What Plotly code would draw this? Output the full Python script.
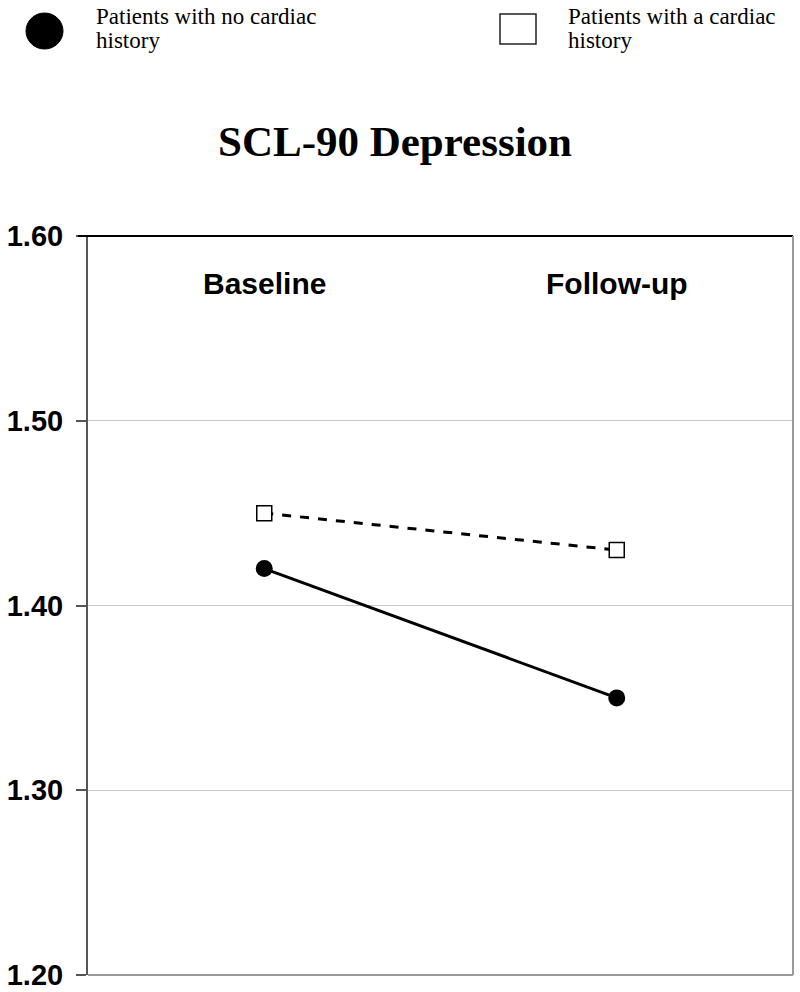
import plotly.graph_objects as go

categories = ["Baseline", "Follow-up"]
no_cardiac = [1.42, 1.35]
cardiac = [1.45, 1.43]
y_ticks = [1.20, 1.30, 1.40, 1.50, 1.60]
y_tick_labels = ["1.20", "1.30", "1.40", "1.50", "1.60"]
legend_lines_1 = ["Patients with no cardiac", "history"]
legend_lines_2 = ["Patients with a cardiac", "history"]
title_text = "SCL-90 Depression"

W, H = 800, 992
L, R, T, B = 88, 793, 236, 975

def px(x):
    return (x - L) / (R - L)

def py(y):
    return (B - y) / (B - T)

fig = go.Figure()
fig.add_trace(go.Scatter(
    x=categories, y=no_cardiac, mode="lines+markers",
    line=dict(color="black", width=3),
    marker=dict(symbol="circle", size=17, color="black"),
    showlegend=False, hoverinfo="skip"))
fig.add_trace(go.Scatter(
    x=categories, y=cardiac, mode="lines+markers",
    line=dict(color="black", width=3, dash="dash"),
    marker=dict(symbol="square", size=15, color="white", line=dict(color="black", width=1.5)),
    showlegend=False, hoverinfo="skip"))

shapes = [
    dict(type="line", xref="paper", yref="paper", x0=px(78), x1=1, y0=1, y1=1,
         line=dict(color="black", width=2)),
    dict(type="line", xref="paper", yref="paper", x0=1, x1=1, y0=0, y1=1,
         line=dict(color="#999999", width=2)),
    dict(type="line", xref="paper", yref="paper", x0=0, x1=1, y0=0, y1=0,
         line=dict(color="#999999", width=2)),
    dict(type="circle", xref="paper", yref="paper", x0=px(26), x1=px(63), y0=py(49), y1=py(13),
         fillcolor="black", line=dict(color="black", width=1)),
    dict(type="rect", xref="paper", yref="paper", x0=px(500), x1=px(536), y0=py(44), y1=py(14),
         fillcolor="white", line=dict(color="#222", width=1.5)),
]

annotations = [
    dict(text="<b>" + title_text + "</b>", xref="paper", yref="paper", x=px(395), y=py(141),
         showarrow=False, font=dict(family="Liberation Serif", size=43, color="black"),
         xanchor="center", yanchor="middle"),
]
for lines, x0 in ((legend_lines_1, 94), (legend_lines_2, 566)):
    for i, t in enumerate(lines):
        annotations.append(dict(text=t, xref="paper", yref="paper", x=px(x0), y=py(16 + 24.5 * i),
                                showarrow=False, align="left", xanchor="left", yanchor="middle",
                                font=dict(family="Liberation Serif", size=23, color="black")))
for c in categories:
    annotations.append(dict(text="<b>" + c + "</b>", x=c, y=1.6 - (283 - T) / (B - T) * 0.4,
                            xref="x", yref="y",
                            showarrow=False, xanchor="center", yanchor="middle",
                            font=dict(family="Liberation Sans", size=30, color="black")))

fig.update_layout(
    width=W, height=H,
    margin=dict(l=L, r=W - R, t=T, b=H - B, autoexpand=False),
    paper_bgcolor="white", plot_bgcolor="white",
    shapes=shapes, annotations=annotations,
    xaxis=dict(type="category", range=[-0.5, 1.5], showticklabels=False, showgrid=False,
               zeroline=False, showline=False, ticks="", automargin=False),
    yaxis=dict(range=[1.20, 1.60], tickvals=y_ticks, ticktext=y_tick_labels,
               showgrid=True, gridcolor="#c8c8c8", gridwidth=1, zeroline=False,
               showline=True, linecolor="#555555", linewidth=2,
               ticks="outside", ticklen=10, tickcolor="#555555", tickwidth=1.5,
               ticklabelstandoff=7, automargin=False,
               tickfont=dict(family="Liberation Sans", size=29, color="black", weight="bold")),
)

fig.write_html("out.html", config={"displayModeBar": False},
               post_script="document.body.style.margin='0';document.body.style.padding='0';")
